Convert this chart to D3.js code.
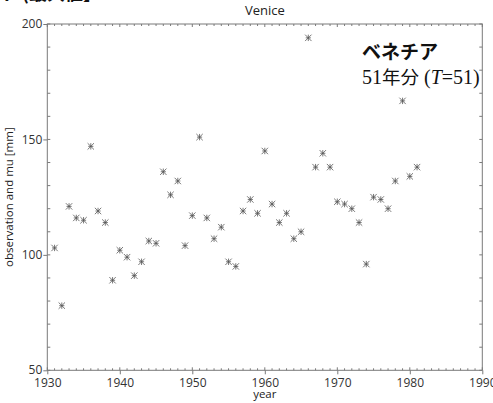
<!DOCTYPE html>
<html><head><meta charset="utf-8">
<script src="https://cdn.jsdelivr.net/npm/d3@7"></script>
<style>body{margin:0;background:#fff}svg{display:block}</style>
</head><body>
<script>
const years = d3.range(1931, 1982);
const values = [103,78,121,116,115,147,119,114,89,102,99,91,97,106,105,136,126,132,104,117,
  151,116,107,112,97,95,119,124,118,145,122,114,118,107,110,194,138,144,138,123,
  122,120,114,96,125,124,120,132,166.7,134,138];
const xTicks = [1930,1940,1950,1960,1970,1980,1990];
const yTicks = [50,100,150,200];
const title = "Venice";
const xLabel = "year";
const yLabel = "observation and mu [mm]";

const W=493,H=403;
const svg=d3.select("body").append("svg").attr("width",W).attr("height",H);
const x=d3.scaleLinear().domain([1930,1990]).range([47.3,482.3]);
const y=d3.scaleLinear().domain([50,200]).range([370.3,24]);
const axisCol="#7a7a7a", font="'Open Sans','Noto Sans',sans-serif";

// cut-off header text
svg.append("text").attr("x",0).attr("y",-0.3).attr("font-family","'Noto Sans CJK JP'")
  .attr("font-size",18).attr("font-weight","bold").attr("fill","#111").text("ト (最大値】");

// frame
const g=svg.append("g");
g.append("rect").attr("x",x(1930)).attr("y",y(200)).attr("width",x(1990)-x(1930)).attr("height",y(50)-y(200))
  .attr("fill","none").attr("stroke",axisCol).attr("stroke-width",1);

// x ticks
const minorX=d3.range(1930,1991,1);
minorX.forEach(v=>{
  const major=v%10===0;
  g.append("line").attr("x1",x(v)).attr("x2",x(v)).attr("y1",y(50)).attr("y2",y(50)-(major?3:2)).attr("stroke",axisCol);
  g.append("line").attr("x1",x(v)).attr("x2",x(v)).attr("y1",y(200)).attr("y2",y(200)+(major?3:2)).attr("stroke",axisCol);
});
const xa=g.append("g").attr("transform",`translate(0,${y(50)})`)
  .call(d3.axisBottom(x).tickValues(xTicks).tickFormat(d3.format("d")).tickSize(4).tickSizeOuter(0));
xa.select(".domain").remove();
xa.selectAll("line").attr("stroke",axisCol);
xa.selectAll("text").attr("font-family",font).attr("font-size",12).attr("fill","#333").attr("y",16.5).attr("dy",0);

// y ticks
d3.range(50,201,10).forEach(v=>{
  g.append("line").attr("x1",x(1930)).attr("x2",x(1930)+3).attr("y1",y(v)).attr("y2",y(v)).attr("stroke",axisCol);
  g.append("line").attr("x1",x(1990)).attr("x2",x(1990)-3).attr("y1",y(v)).attr("y2",y(v)).attr("stroke",axisCol);
});
const ya=g.append("g").attr("transform",`translate(${x(1930)},0)`)
  .call(d3.axisLeft(y).tickValues(yTicks).tickSize(4).tickSizeOuter(0));
ya.select(".domain").remove();
ya.selectAll("line").attr("stroke",axisCol);
ya.selectAll("text").attr("font-family",font).attr("font-size",12).attr("fill","#333").attr("x",-5).attr("dy","0.3em");

// labels
svg.append("text").attr("x",(x(1930)+x(1990))/2).attr("y",15).attr("text-anchor","middle")
  .attr("font-family",font).attr("font-size",13).attr("fill","#222").text(title);
svg.append("text").attr("x",(x(1930)+x(1990))/2).attr("y",398).attr("text-anchor","middle")
  .attr("font-family",font).attr("font-size",11.5).attr("fill","#222").text(xLabel);
svg.append("text").attr("transform",`translate(13,${(y(50)+y(200))/2}) rotate(-90)`).attr("text-anchor","middle")
  .attr("font-family",font).attr("font-size",11.5).attr("fill","#222").text(yLabel);

// markers
const s=3.2;
const mk=`M${-s},${-s}L${s},${s}M${-s},${s}L${s},${-s}M0,${-s}L0,${s}M${-s*0.8},0L${s*0.8},0`;
svg.append("g").selectAll("path").data(years.map((yr,i)=>[yr,values[i]])).join("path")
  .attr("transform",d=>`translate(${x(d[0])},${y(d[1])})`).attr("d",mk)
  .attr("stroke","#555").attr("stroke-width",0.8).attr("fill","none");

// annotation
svg.append("text").attr("x",362).attr("y",59).attr("font-family","'Noto Sans CJK JP'").attr("font-weight","bold")
  .attr("font-size",19).attr("fill","#111").text("ベネチア");
const t=svg.append("text").attr("x",362).attr("y",84).attr("font-family","'Liberation Serif','Noto Sans CJK JP'")
  .attr("font-size",20).attr("fill","#111");
t.append("tspan").text("51");
t.append("tspan").attr("font-family","'Noto Sans CJK JP'").attr("font-size",18.5).text("年分");
t.append("tspan").text(" (");
t.append("tspan").attr("font-style","italic").text("T");
t.append("tspan").text("=51)");
</script>
</body></html>
